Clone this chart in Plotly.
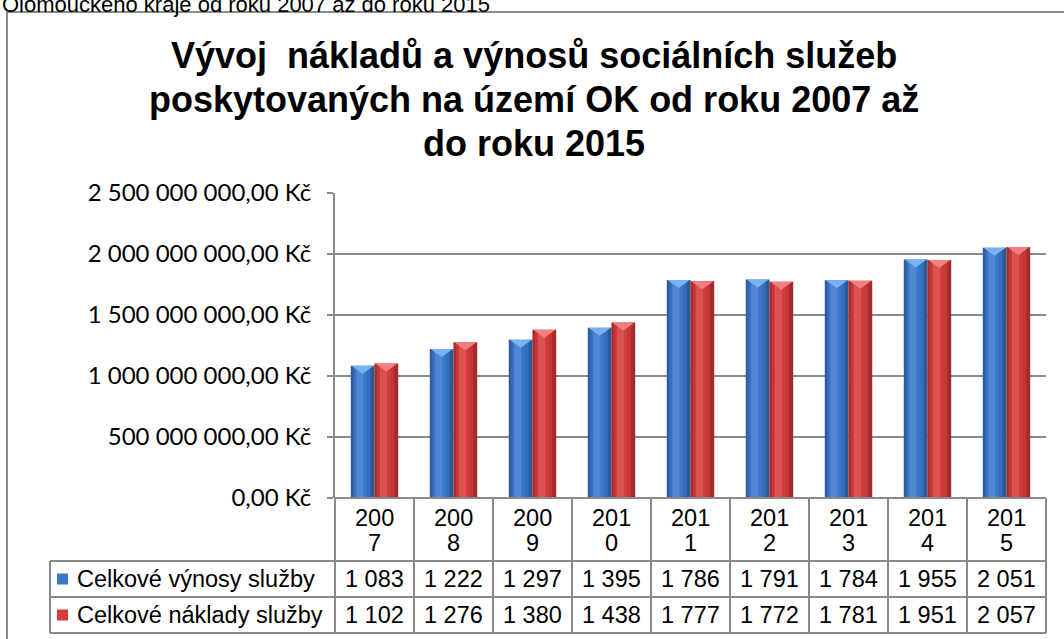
import plotly.graph_objects as go

# ---------------- data ----------------
years = ["2007", "2008", "2009", "2010", "2011", "2012", "2013", "2014", "2015"]
vynosy_mil = [1083, 1222, 1297, 1395, 1786, 1791, 1784, 1955, 2051]
naklady_mil = [1102, 1276, 1380, 1438, 1777, 1772, 1781, 1951, 2057]
series_names = ["Celkové výnosy služby", "Celkové náklady služby"]
series_colors = ["#3B78CC", "#D63B3B"]
series_caps = ["#78B2F2", "#F27E7E"]
y_ticks = [0, 500_000_000, 1_000_000_000, 1_500_000_000, 2_000_000_000, 2_500_000_000]
title_lines = ["Vývoj  nákladů a výnosů sociálních služeb",
               "poskytovaných na území OK od roku 2007 až",
               "do roku 2015"]
top_caption = "Olomouckého kraje od roku 2007 až do roku 2015"

series_values = [vynosy_mil, naklady_mil]

# ---------------- geometry (pixels) ----------------
W, H = 1064, 639
PX0, PX1 = 335, 1046     # plot area x
PY0, PY1 = 193, 498      # plot area y (top, bottom)


def px(xp):
    return (xp - PX0) / (PX1 - PX0)


def py(yp):
    return (PY1 - yp) / (PY1 - PY0)


def fmt_int(v):
    return f"{v:,}".replace(",", " ")


def fmt_kc(v):
    s = f"{v:,.2f}"
    s = s.replace(",", " ").replace(".", ",")
    return s + " Kč"


fig = go.Figure()

n = len(years)
xs = list(range(n))
bw = 0.3
ymax = y_ticks[-1]
cap_depth = ymax * 8 / (PY1 - PY0)

for k, (name, vals) in enumerate(zip(series_names, series_values)):
    off = -bw + bw * k
    yv = [v * 1_000_000 for v in vals]
    col = series_colors[k]
    fig.add_trace(go.Bar(x=xs, y=yv, width=bw, offset=off, name=name,
                         marker=dict(color=col, line=dict(width=0)),
                         hoverinfo="skip", showlegend=False))
    # cylinder-like shading strips
    strips = [
        (0.0, 0.03, "rgba(0,0,0,0.22)"),
        (0.03, 0.03, "rgba(0,0,0,0.08)"),
        (0.07, 0.09, "rgba(255,255,255,0.12)"),
        (0.20, 0.05, "rgba(0,0,0,0.08)"),
        (0.25, 0.05, "rgba(0,0,0,0.25)"),
    ]
    for so, sw, sc in strips:
        fig.add_trace(go.Bar(x=xs, y=yv, width=sw, offset=off + so,
                             marker=dict(color=sc, line=dict(width=0)),
                             hoverinfo="skip", showlegend=False))
    # bevel cap (triangle on top)
    cx, cy = [], []
    for i, v in zip(xs, yv):
        cx += [i + off + 0.01, i + off + bw - 0.01, i + off + bw / 2, i + off + 0.01, None]
        cy += [v, v, v - cap_depth, v, None]
    fig.add_trace(go.Scatter(x=cx, y=cy, mode="lines", fill="toself",
                             fillcolor=series_caps[k], line=dict(width=0),
                             hoverinfo="skip", showlegend=False))

GRID = "#8A8A8A"
shapes = []


def hline(y, x0, x1):
    shapes.append(dict(type="line", xref="paper", yref="paper",
                       x0=px(x0), x1=px(x1), y0=py(y), y1=py(y),
                       line=dict(color=GRID, width=2)))


def vline(x, y0, y1):
    shapes.append(dict(type="line", xref="paper", yref="paper",
                       x0=px(x), x1=px(x), y0=py(y0), y1=py(y1),
                       line=dict(color=GRID, width=2)))


# outer frame
shapes.append(dict(type="rect", xref="paper", yref="paper",
                   x0=px(7), x1=px(1075), y0=py(12), y1=py(660),
                   line=dict(color=GRID, width=2), layer="below"))

# data table grid
TY0, TY1, TY2, TY3 = 498, 561, 597, 633
TLEFT = 50
colw = (PX1 - PX0) / n
hline(TY0, PX0, PX1)
hline(TY1, TLEFT, PX1)
hline(TY2, TLEFT, PX1)
hline(TY3, TLEFT, PX1)
for c in range(n + 1):
    vline(PX0 + c * colw, TY0, TY3)
vline(TLEFT, TY1, TY3)

annotations = []
TFONT = dict(family="Liberation Sans, Arial", size=23.5, color="#000000")
row_centers = [(TY1 + TY2) / 2, (TY2 + TY3) / 2]
for c, yr in enumerate(years):
    cxp = PX0 + (c + 0.5) * colw
    annotations.append(dict(x=px(cxp), y=py(518), xref="paper", yref="paper",
                            text=yr[:3], showarrow=False, font=TFONT,
                            xanchor="center", yanchor="middle"))
    annotations.append(dict(x=px(cxp), y=py(543), xref="paper", yref="paper",
                            text=yr[3:], showarrow=False, font=TFONT,
                            xanchor="center", yanchor="middle"))
    for r, vals in enumerate(series_values):
        annotations.append(dict(x=px(cxp), y=py(row_centers[r]), xref="paper", yref="paper",
                                text=fmt_int(vals[c]), showarrow=False, font=TFONT,
                                xanchor="center", yanchor="middle"))

for r, name in enumerate(series_names):
    yc = row_centers[r]
    shapes.append(dict(type="rect", xref="paper", yref="paper",
                       x0=px(57), x1=px(68), y0=py(yc - 5.5), y1=py(yc + 5.5),
                       fillcolor=series_colors[r], line=dict(width=0)))
    annotations.append(dict(x=px(75), y=py(yc), xref="paper", yref="paper",
                            text=name, showarrow=False, font=TFONT,
                            xanchor="left", yanchor="middle"))

# title, one annotation per line
title_centers = [55, 99, 143]
for line, yc in zip(title_lines, title_centers):
    annotations.append(dict(x=px(534), y=py(yc), xref="paper", yref="paper",
                            text=line, showarrow=False,
                            font=dict(family="Liberation Sans, Arial", size=36,
                                      color="#000000", weight="bold"),
                            xanchor="center", yanchor="middle", align="center"))
# cut-off caption on top (as in the reference)
annotations.append(dict(x=px(0), y=py(5), xref="paper", yref="paper",
                        text=top_caption, showarrow=False,
                        font=dict(family="Liberation Sans, Arial", size=22, color="#000000"),
                        xanchor="left", yanchor="middle"))

fig.update_layout(
    width=W, height=H,
    margin=dict(l=PX0, r=W - PX1, t=PY0, b=H - PY1, pad=0),
    paper_bgcolor="white", plot_bgcolor="white",
    barmode="overlay",
    showlegend=False,
    shapes=shapes,
    annotations=annotations,
    xaxis=dict(range=[-0.5, n - 0.5], showticklabels=False, showgrid=False,
               zeroline=False, showline=False, ticks="", fixedrange=True),
    yaxis=dict(range=[0, ymax], tickvals=y_ticks,
               ticktext=[fmt_kc(v) for v in y_ticks],
               showgrid=True, gridcolor=GRID, gridwidth=2,
               zeroline=False, showline=True, linecolor=GRID, linewidth=2,
               ticks="outside", ticklen=6, tickcolor=GRID, tickwidth=2,
               ticklabelstandoff=11,
               tickfont=dict(family="Lato, Open Sans", size=24, color="#000000"),
               fixedrange=True),
)

fig.write_html(
    "out.html",
    config={"displayModeBar": False},
    post_script="document.body.style.margin='0';document.body.style.overflow='hidden';",
)
